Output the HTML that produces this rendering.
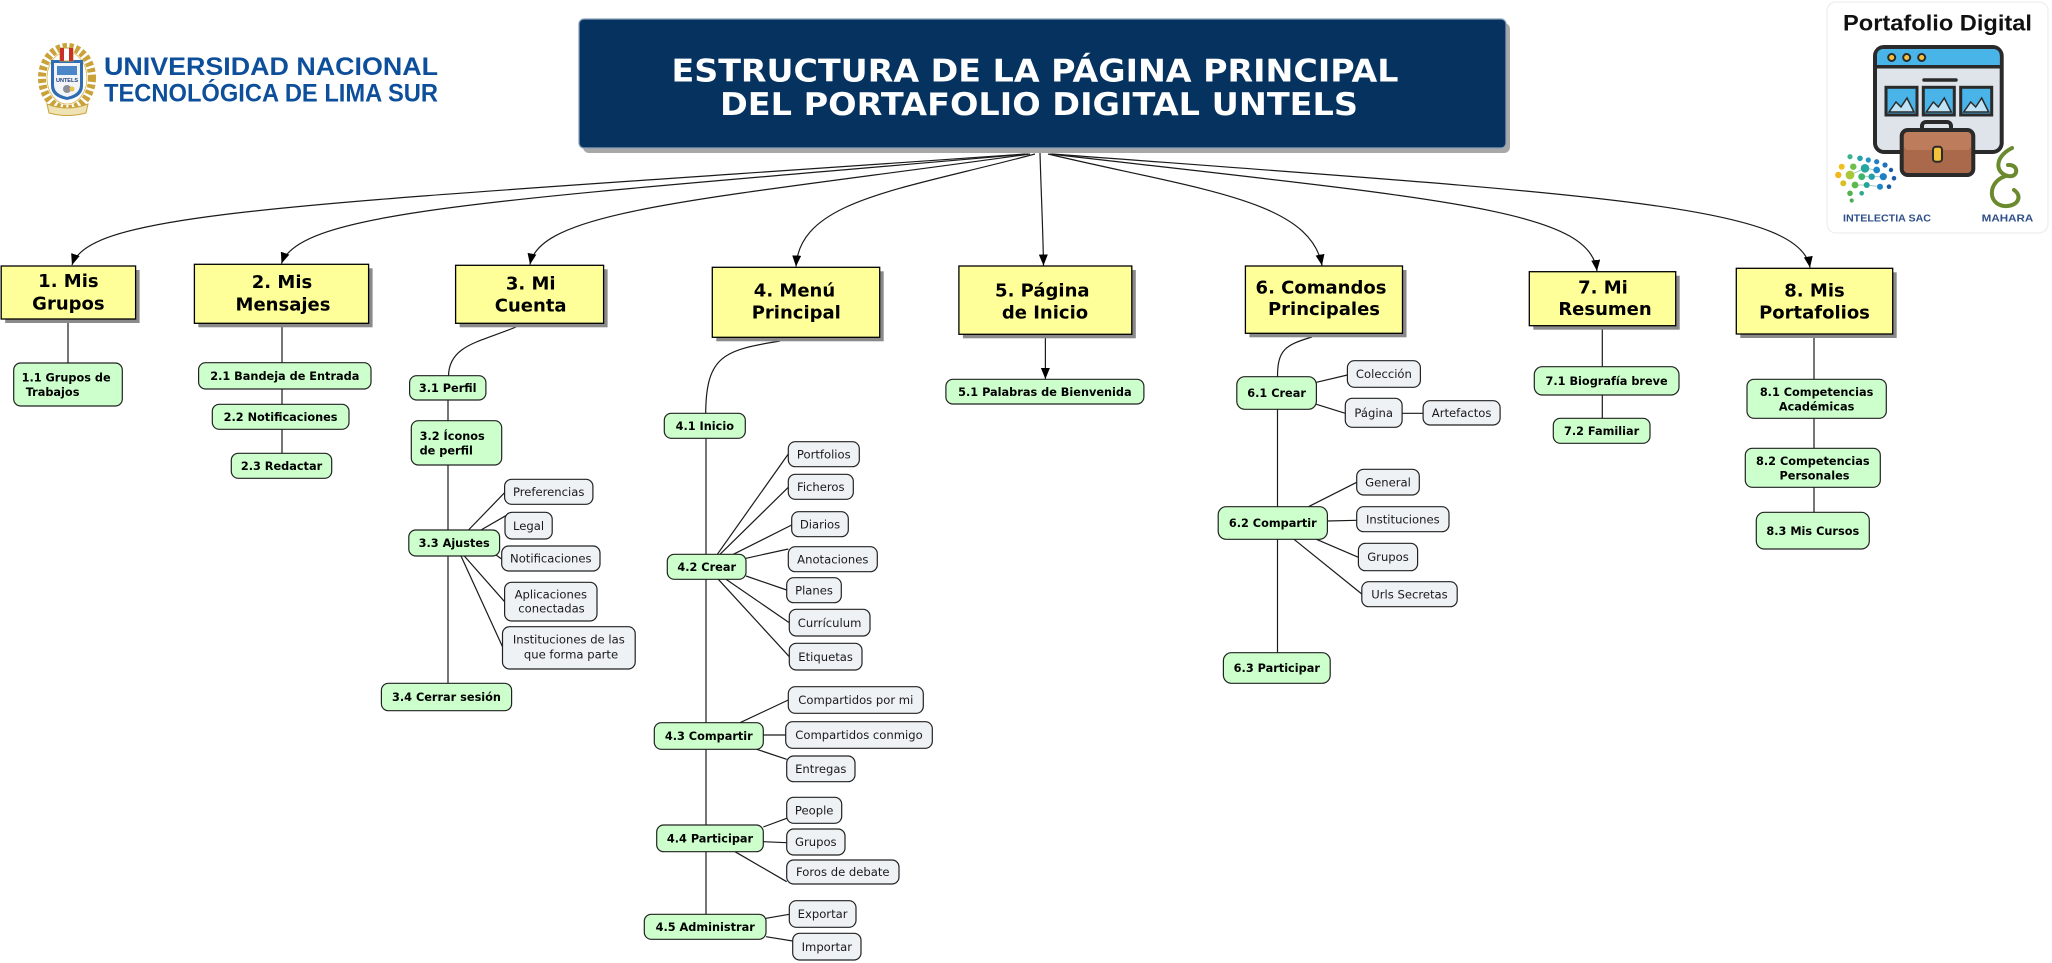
<!DOCTYPE html>
<html>
<head>
<meta charset="utf-8">
<style>
html,body{margin:0;padding:0;background:#fff;}
svg{display:block;}
.ybox{fill:#ffff99;stroke:#000;stroke-width:1.3;}
.ysh{fill:#8a8a8a;}
.yt{font-family:"DejaVu Sans","Liberation Sans",sans-serif;font-weight:bold;font-size:18px;fill:#000;text-anchor:middle;}
.gn{fill:#ccffcc;stroke:#222;stroke-width:1.2;}
.gt{font-family:"DejaVu Sans","Liberation Sans",sans-serif;font-weight:bold;font-size:11.3px;fill:#000;text-anchor:middle;}
.ln{fill:#eef2f5;stroke:#222;stroke-width:1.2;}
.lt{font-family:"DejaVu Sans","Liberation Sans",sans-serif;font-size:11.6px;fill:#1a1a1a;text-anchor:middle;}
.c{stroke:#1a1a1a;stroke-width:1.2;fill:none;}
</style>
</head>
<body>
<svg width="2052" height="963" viewBox="0 0 2052 963" xmlns="http://www.w3.org/2000/svg">
<defs>
<marker id="ar" markerUnits="userSpaceOnUse" markerWidth="12" markerHeight="10" refX="11" refY="4.5" orient="auto">
<path d="M0,0 L11,4.5 L0,9 z" fill="#000"/>
</marker>
</defs>

<!-- ===== Top-left logo ===== -->
<g>
<ellipse cx="67" cy="78" rx="25" ry="31" fill="none" stroke="#c9a23a" stroke-width="8" stroke-dasharray="4 2.4"/>
<ellipse cx="67" cy="78" rx="20" ry="26" fill="#fff" stroke="#d8b44c" stroke-width="0.8"/>
<path d="M51,60 H83 V86 Q83,97 67,100 Q51,97 51,86 Z" fill="#2f6db3"/>
<path d="M54,63 H80 V85 Q80,94 67,97 Q54,94 54,85 Z" fill="#f2f4f8"/>
<rect x="57" y="66" width="20" height="9" fill="#4a86c8"/>
<text x="67" y="82" font-family="Liberation Sans,sans-serif" font-size="5.5" font-weight="bold" fill="#1c3f7a" text-anchor="middle">UNTELS</text>
<circle cx="67" cy="89" r="4" fill="#8a8f98"/>
<circle cx="72" cy="89" r="2.5" fill="#e6c24a"/>
<rect x="60" y="48" width="13" height="13" fill="#fff" stroke="#c9a23a" stroke-width="1"/>
<rect x="60" y="48" width="4" height="13" fill="#c8302a"/>
<rect x="69" y="48" width="4" height="13" fill="#c8302a"/>
<path d="M47,104 Q67,112 88,104 L86,113 Q67,118 49,113 Z" fill="#efe3b4" stroke="#c9a23a" stroke-width="1"/>
</g>
<text x="104" y="75" textLength="334" lengthAdjust="spacingAndGlyphs" font-family="Liberation Sans,sans-serif" font-weight="bold" font-size="25" fill="#0d4f9b">UNIVERSIDAD NACIONAL</text>
<text x="104" y="101.7" textLength="334" lengthAdjust="spacingAndGlyphs" font-family="Liberation Sans,sans-serif" font-weight="bold" font-size="25" fill="#0d4f9b">TECNOLÓGICA DE LIMA SUR</text>

<!-- ===== Top-right logo ===== -->
<rect x="1827" y="2" width="221" height="231" rx="9" fill="#fff" stroke="#f0f0f0" stroke-width="1.5"/>
<text x="1843" y="30.7" textLength="189" lengthAdjust="spacingAndGlyphs" font-family="Liberation Sans,sans-serif" font-weight="bold" font-size="22" fill="#111">Portafolio Digital</text>
<rect x="1875" y="47" width="126.7" height="105" rx="9" fill="#dfe4ea" stroke="#2a2a2a" stroke-width="4"/>
<path d="M1877,66.7 V56 Q1877,49 1884,49 H1992.7 Q1999.7,49 1999.7,56 V66.7 Z" fill="#48b4e8"/>
<line x1="1875" y1="66.7" x2="2001.7" y2="66.7" stroke="#2a2a2a" stroke-width="3.5"/>
<circle cx="1891.7" cy="57.5" r="3.5" fill="#f6c23e" stroke="#2a2a2a" stroke-width="2"/>
<circle cx="1906.7" cy="57.5" r="3.5" fill="#f6c23e" stroke="#2a2a2a" stroke-width="2"/>
<circle cx="1921.7" cy="57.5" r="3.5" fill="#f6c23e" stroke="#2a2a2a" stroke-width="2"/>
<line x1="1924" y1="80" x2="1956" y2="80" stroke="#2a2a2a" stroke-width="3.5" stroke-linecap="round"/>
<g stroke="#2a2a2a">
<rect x="1886" y="87.3" width="31" height="27.7" fill="#4ab4e8" stroke-width="3"/>
<path d="M1889,112 L1896,102 L1901,107 L1907,98 L1914,112 Z" fill="#bfe3f5" stroke-width="1.5"/>
<rect x="1923.3" y="87.3" width="31" height="27.7" fill="#4ab4e8" stroke-width="3"/>
<path d="M1926.3,112 L1933.3,102 L1938.3,107 L1944.3,98 L1951.3,112 Z" fill="#bfe3f5" stroke-width="1.5"/>
<rect x="1960.7" y="87.3" width="31" height="27.7" fill="#4ab4e8" stroke-width="3"/>
<path d="M1963.7,112 L1970.7,102 L1975.7,107 L1981.7,98 L1988.7,112 Z" fill="#bfe3f5" stroke-width="1.5"/>
</g>
<rect x="1922" y="122" width="29" height="13" rx="4" fill="none" stroke="#2a2a2a" stroke-width="4"/>
<rect x="1901.7" y="130" width="71.6" height="45" rx="6" fill="#a9694a" stroke="#2a2a2a" stroke-width="4"/>
<rect x="1904" y="132" width="67" height="18" rx="4" fill="#bd7c5c"/>
<rect x="1933" y="146.7" width="9" height="15" rx="3" fill="#f3c23a" stroke="#2a2a2a" stroke-width="2"/>
<g stroke="#9fc9b8" stroke-width="0.9">
<line x1="1850" y1="175" x2="1865" y2="168.3"/><line x1="1865" y1="168.3" x2="1876.7" y2="170"/><line x1="1861.7" y1="176.7" x2="1871.7" y2="176.7"/><line x1="1871.7" y1="176.7" x2="1883.3" y2="176.7"/><line x1="1855" y1="185" x2="1866.7" y2="185"/><line x1="1866.7" y1="185" x2="1880" y2="186.7"/>
</g>
<g>
<circle cx="1850" cy="156.7" r="2.6" fill="#3cb38a"/>
<circle cx="1860" cy="158.3" r="2.8" fill="#26a3a8"/>
<circle cx="1868.3" cy="160" r="2.6" fill="#2393c4"/>
<circle cx="1876.7" cy="161.7" r="2.6" fill="#1f7fc4"/>
<circle cx="1885" cy="165" r="2.6" fill="#1f72bc"/>
<circle cx="1891" cy="170" r="2.2" fill="#1a5aa0"/>
<circle cx="1841.7" cy="166.7" r="3" fill="#f0c020"/>
<circle cx="1853.3" cy="166.7" r="3.2" fill="#6cbf4a"/>
<circle cx="1865" cy="168.3" r="4.3" fill="#25a7a0"/>
<circle cx="1876.7" cy="170" r="3.4" fill="#1f86c8"/>
<circle cx="1838.3" cy="175" r="3.2" fill="#f2b81e"/>
<circle cx="1850" cy="175" r="4.4" fill="#a8c83a"/>
<circle cx="1861.7" cy="176.7" r="3.4" fill="#3db56a"/>
<circle cx="1871.7" cy="176.7" r="3.2" fill="#22a0a8"/>
<circle cx="1883.3" cy="176.7" r="3.6" fill="#1e7fc4"/>
<circle cx="1894" cy="178.3" r="2.3" fill="#1a5aa0"/>
<circle cx="1843.3" cy="183.3" r="3" fill="#d9c020"/>
<circle cx="1855" cy="185" r="3.4" fill="#5cba4c"/>
<circle cx="1866.7" cy="185" r="3" fill="#22a59a"/>
<circle cx="1880" cy="186.7" r="3" fill="#1f86c8"/>
<circle cx="1889" cy="186.7" r="2.3" fill="#1a5aa0"/>
<circle cx="1850" cy="193.3" r="2.8" fill="#52b24e"/>
<circle cx="1861.7" cy="193.3" r="2.3" fill="#2aa88c"/>
<circle cx="1851.7" cy="200.5" r="2.1" fill="#4aae50"/>
</g>
<g fill="none" stroke="#6b8a2e" stroke-width="4" stroke-linecap="round">
<path d="M2012,148 C1994,157 1995,173 2008,176 C2019,178 2019,164 2008,165"/>
<path d="M2006,176 C1988,181 1987,204 2004,206 C2018,207 2023,196 2014,190"/>
</g>
<text x="1843" y="221.7" textLength="88" lengthAdjust="spacingAndGlyphs" font-family="Liberation Sans,sans-serif" font-weight="bold" font-size="10.5" fill="#2f4f8a">INTELECTIA SAC</text>
<text x="1981.7" y="221.7" textLength="51.6" lengthAdjust="spacingAndGlyphs" font-family="Liberation Sans,sans-serif" font-weight="bold" font-size="10.5" fill="#2f4f8a">MAHARA</text>

<!-- ===== Title ===== -->
<rect x="583" y="23" width="927" height="130" rx="6" fill="#a8a8a8"/>
<rect x="579" y="19" width="927" height="129" rx="5" fill="#06325f" stroke="#8aa0b8" stroke-width="1.2"/>
<text x="1035" y="81.7" textLength="727" lengthAdjust="spacingAndGlyphs" font-family="DejaVu Sans,Liberation Sans,sans-serif" font-weight="bold" font-size="31" fill="#fff" text-anchor="middle">ESTRUCTURA DE LA PÁGINA PRINCIPAL</text>
<text x="1039" y="115" textLength="638" lengthAdjust="spacingAndGlyphs" font-family="DejaVu Sans,Liberation Sans,sans-serif" font-weight="bold" font-size="31" fill="#fff" text-anchor="middle">DEL PORTAFOLIO DIGITAL UNTELS</text>

<!-- ===== Main arrows ===== -->
<g class="c" marker-end="url(#ar)">
<path d="M1025,154 C300,205 90,210 72,265"/>
<path d="M1028,154 C500,200 300,210 281.5,263.5"/>
<path d="M1030,154 C700,200 540,210 530,264.5"/>
<path d="M1035,154 C900,190 800,200 796,266.5"/>
<path d="M1040,153 C1041,190 1043,230 1043.5,265.5"/>
<path d="M1048,154 C1200,190 1310,200 1322,265.5"/>
<path d="M1050,154 C1450,200 1590,210 1597,271"/>
<path d="M1052,154 C1600,195 1800,205 1810,267.5"/>
</g>

<!-- ===== Tree connectors ===== -->
<g class="c">
<line x1="68" y1="319" x2="68" y2="363"/>
<line x1="282" y1="323" x2="282" y2="478"/>
<path d="M516,327 C480,342 449,345 448.5,376"/>
<line x1="448" y1="400" x2="448" y2="684"/>
<line x1="468.5" y1="530" x2="504.6" y2="492.7"/>
<line x1="481" y1="530" x2="505.8" y2="515.7"/>
<line x1="496" y1="555" x2="503" y2="560"/>
<line x1="464.3" y1="556" x2="504.6" y2="601.7"/>
<line x1="461" y1="556" x2="502.5" y2="646.7"/>

<path d="M780,341 C725,350 706,355 705.7,413.5"/>
<line x1="706" y1="438" x2="706" y2="914.5"/>
<line x1="717.3" y1="554.3" x2="788.3" y2="454"/>
<line x1="720" y1="554.3" x2="788.3" y2="487.3"/>
<line x1="733.3" y1="554.3" x2="791.7" y2="525"/>
<line x1="746" y1="558.3" x2="788.3" y2="549"/>
<line x1="746" y1="576" x2="786.7" y2="590"/>
<line x1="726" y1="579.3" x2="789.3" y2="622.7"/>
<line x1="718.3" y1="579.3" x2="789.3" y2="656.7"/>
<line x1="740" y1="722.7" x2="788.3" y2="700"/>
<line x1="763.3" y1="735" x2="785.7" y2="735"/>
<line x1="756.7" y1="749.3" x2="786.7" y2="759.3"/>
<line x1="763.3" y1="827" x2="786.7" y2="818.3"/>
<line x1="763.3" y1="841.7" x2="786.7" y2="842.7"/>
<line x1="735" y1="851.7" x2="786.7" y2="881.7"/>
<line x1="766" y1="918.3" x2="789.3" y2="914.3"/>
<line x1="766" y1="936.7" x2="792.7" y2="941"/>

<path d="M1312,337 C1285,345 1277.5,350 1277.5,377"/>
<line x1="1277.5" y1="409" x2="1277.5" y2="653"/>
<line x1="1316.4" y1="382.3" x2="1347.4" y2="375"/>
<line x1="1316.4" y1="404.3" x2="1345.3" y2="413.3"/>
<line x1="1402.1" y1="413.3" x2="1423.1" y2="413.3"/>
<line x1="1308.5" y1="506.7" x2="1356.7" y2="482.3"/>
<line x1="1327.4" y1="521" x2="1356.7" y2="520.3"/>
<line x1="1316.4" y1="539.3" x2="1358.4" y2="557.3"/>
<line x1="1294" y1="539.3" x2="1361.8" y2="594"/>

<line x1="1602.3" y1="326" x2="1602.3" y2="418.5"/>
<line x1="1814" y1="334" x2="1814" y2="512.5"/>
</g>
<line x1="1045.4" y1="338" x2="1045.4" y2="379" class="c" marker-end="url(#ar)"/>

<!-- ===== Yellow main boxes ===== -->
<rect class="ysh" x="5.2" y="270" width="134.4" height="53"/>
<rect class="ybox" x="1.2" y="266" width="134.4" height="53"/>
<text class="yt" x="68.4" y="287">1. Mis</text>
<text class="yt" x="68.4" y="309.5">Grupos</text>

<rect class="ysh" x="198.4" y="268.3" width="174.2" height="59"/>
<rect class="ybox" x="194.4" y="264.3" width="174.2" height="59"/>
<text class="yt" x="282" y="288">2. Mis</text>
<text class="yt" x="283" y="310.5">Mensajes</text>

<rect class="ysh" x="459.6" y="269.3" width="148" height="58"/>
<rect class="ybox" x="455.6" y="265.3" width="148" height="58"/>
<text class="yt" x="530.7" y="289.3">3. Mi</text>
<text class="yt" x="530.7" y="311.7">Cuenta</text>

<rect class="ysh" x="716.3" y="271.3" width="167.4" height="70"/>
<rect class="ybox" x="712.3" y="267.3" width="167.4" height="70"/>
<text class="yt" x="794.5" y="296.7">4. Menú</text>
<text class="yt" x="796.3" y="318.3">Principal</text>

<rect class="ysh" x="962.9" y="270" width="172.9" height="68.3"/>
<rect class="ybox" x="958.9" y="266" width="172.9" height="68.3"/>
<text class="yt" x="1042.3" y="296.7">5. Página</text>
<text class="yt" x="1045" y="318.3">de Inicio</text>

<rect class="ysh" x="1249.4" y="270" width="157.1" height="67.3"/>
<rect class="ybox" x="1245.4" y="266" width="157.1" height="67.3"/>
<text class="yt" x="1321" y="293.3">6. Comandos</text>
<text class="yt" x="1324" y="315">Principales</text>

<rect class="ysh" x="1533.3" y="275.7" width="146.4" height="54"/>
<rect class="ybox" x="1529.3" y="271.7" width="146.4" height="54"/>
<text class="yt" x="1603" y="293.3">7. Mi</text>
<text class="yt" x="1605" y="315">Resumen</text>

<rect class="ysh" x="1740.3" y="272.3" width="156.4" height="65.7"/>
<rect class="ybox" x="1736.3" y="268.3" width="156.4" height="65.7"/>
<text class="yt" x="1814.5" y="296.7">8. Mis</text>
<text class="yt" x="1814.5" y="318.3">Portafolios</text>

<!-- ===== Green nodes ===== -->
<rect class="gn" x="13.7" y="363" width="108.6" height="43" rx="7"/>
<text class="gt" x="21.6" y="381.7" style="text-anchor:start">1.1 Grupos de</text>
<text class="gt" x="25.7" y="396" style="text-anchor:start">Trabajos</text>

<rect class="gn" x="198.6" y="362.7" width="172.4" height="26.3" rx="7"/>
<text class="gt" x="284.8" y="380">2.1 Bandeja de Entrada</text>
<rect class="gn" x="212.3" y="404.3" width="136.7" height="25" rx="7"/>
<text class="gt" x="280.6" y="421">2.2 Notificaciones</text>
<rect class="gn" x="231.3" y="453.3" width="100.4" height="25" rx="7"/>
<text class="gt" x="281.5" y="470">2.3 Redactar</text>

<rect class="gn" x="409.6" y="375.7" width="76.3" height="24.3" rx="7"/>
<text class="gt" x="447.7" y="392">3.1 Perfil</text>
<rect class="gn" x="411.3" y="420.7" width="90.4" height="44.3" rx="7"/>
<text class="gt" x="419.6" y="440" style="text-anchor:start">3.2 Íconos</text>
<text class="gt" x="419.6" y="454.5" style="text-anchor:start">de perfil</text>
<rect class="gn" x="408.8" y="530" width="90.8" height="26" rx="7"/>
<text class="gt" x="454.2" y="547">3.3 Ajustes</text>
<rect class="gn" x="381.4" y="683.3" width="130.2" height="27.4" rx="7"/>
<text class="gt" x="446.5" y="701">3.4 Cerrar sesión</text>

<rect class="gn" x="664.3" y="413.3" width="81" height="25" rx="7"/>
<text class="gt" x="704.8" y="430">4.1 Inicio</text>
<rect class="gn" x="667.3" y="554.3" width="78.7" height="25" rx="7"/>
<text class="gt" x="706.7" y="571">4.2 Crear</text>
<rect class="gn" x="654.3" y="722.7" width="109" height="26.6" rx="7"/>
<text class="gt" x="708.8" y="740">4.3 Compartir</text>
<rect class="gn" x="656.7" y="825" width="106.6" height="26.7" rx="7"/>
<text class="gt" x="710" y="842.5">4.4 Participar</text>
<rect class="gn" x="644.3" y="914.3" width="121.7" height="25" rx="7"/>
<text class="gt" x="705.2" y="931">4.5 Administrar</text>

<rect class="gn" x="945.9" y="379.3" width="198" height="24.7" rx="7"/>
<text class="gt" x="1044.9" y="395.8">5.1 Palabras de Bienvenida</text>

<rect class="gn" x="1236.8" y="376.7" width="79.6" height="32.6" rx="8"/>
<text class="gt" x="1276.6" y="397">6.1 Crear</text>
<rect class="gn" x="1218.2" y="506.7" width="109.2" height="32.6" rx="8"/>
<text class="gt" x="1272.8" y="527">6.2 Compartir</text>
<rect class="gn" x="1223.4" y="652.7" width="106.8" height="30.6" rx="8"/>
<text class="gt" x="1276.8" y="672">6.3 Participar</text>

<rect class="gn" x="1534.3" y="366.7" width="144.7" height="28.3" rx="8"/>
<text class="gt" x="1606.6" y="385">7.1 Biografía breve</text>
<rect class="gn" x="1553.3" y="418.3" width="96.7" height="25" rx="7"/>
<text class="gt" x="1601.6" y="435">7.2 Familiar</text>

<rect class="gn" x="1747" y="379.3" width="139.3" height="39" rx="7"/>
<text class="gt" x="1816.6" y="396">8.1 Competencias</text>
<text class="gt" x="1816.6" y="410.7">Académicas</text>
<rect class="gn" x="1745.3" y="448.3" width="135" height="39" rx="7"/>
<text class="gt" x="1812.8" y="465">8.2 Competencias</text>
<text class="gt" x="1814.5" y="479.3">Personales</text>
<rect class="gn" x="1756.3" y="512.3" width="113" height="36.7" rx="8"/>
<text class="gt" x="1812.8" y="534.8">8.3 Mis Cursos</text>

<!-- ===== Leaf nodes ===== -->
<rect class="ln" x="504.6" y="479.3" width="88.3" height="25" rx="7"/>
<text class="lt" x="548.7" y="496">Preferencias</text>
<rect class="ln" x="505" y="512.3" width="47.2" height="26.7" rx="7"/>
<text class="lt" x="528.6" y="529.9">Legal</text>
<rect class="ln" x="501.7" y="546" width="98.3" height="25" rx="7"/>
<text class="lt" x="550.8" y="562.7">Notificaciones</text>
<rect class="ln" x="504.6" y="582.3" width="92.4" height="38.7" rx="7"/>
<text class="lt" x="550.8" y="598.3">Aplicaciones</text>
<text class="lt" x="551.5" y="612.7">conectadas</text>
<rect class="ln" x="502.5" y="626.7" width="132.7" height="42.3" rx="7"/>
<text class="lt" x="568.8" y="643.3">Instituciones de las</text>
<text class="lt" x="571" y="658.3">que forma parte</text>

<rect class="ln" x="788.3" y="441.7" width="71" height="25" rx="7"/>
<text class="lt" x="823.8" y="458.4">Portfolios</text>
<rect class="ln" x="788.3" y="474.3" width="65" height="25" rx="7"/>
<text class="lt" x="820.8" y="491">Ficheros</text>
<rect class="ln" x="791.7" y="511.7" width="56.6" height="25" rx="7"/>
<text class="lt" x="820" y="528.4">Diarios</text>
<rect class="ln" x="788.3" y="546.7" width="89" height="25" rx="7"/>
<text class="lt" x="832.8" y="563.4">Anotaciones</text>
<rect class="ln" x="786.7" y="577.7" width="54.6" height="25" rx="7"/>
<text class="lt" x="814" y="594.4">Planes</text>
<rect class="ln" x="789.3" y="609.3" width="80.7" height="26.7" rx="7"/>
<text class="lt" x="829.6" y="626.9">Currículum</text>
<rect class="ln" x="789.3" y="643.3" width="72.7" height="26.7" rx="7"/>
<text class="lt" x="825.6" y="660.9">Etiquetas</text>

<rect class="ln" x="788.3" y="686.7" width="135" height="26.6" rx="7"/>
<text class="lt" x="855.8" y="704.2">Compartidos por mi</text>
<rect class="ln" x="785.7" y="721.7" width="146.6" height="26.6" rx="7"/>
<text class="lt" x="859" y="739.2">Compartidos conmigo</text>
<rect class="ln" x="786.7" y="756" width="68.3" height="25.7" rx="7"/>
<text class="lt" x="820.8" y="773">Entregas</text>
<rect class="ln" x="786.7" y="797.3" width="55" height="26" rx="7"/>
<text class="lt" x="814.2" y="814.5">People</text>
<rect class="ln" x="786.7" y="829" width="58.3" height="26" rx="7"/>
<text class="lt" x="815.8" y="846.2">Grupos</text>
<rect class="ln" x="786.7" y="860" width="112.3" height="24" rx="7"/>
<text class="lt" x="842.8" y="876.2">Foros de debate</text>
<rect class="ln" x="789.3" y="900.7" width="66.7" height="26.6" rx="7"/>
<text class="lt" x="822.6" y="918.2">Exportar</text>
<rect class="ln" x="792.7" y="933.3" width="68.3" height="26.7" rx="7"/>
<text class="lt" x="826.8" y="950.9">Importar</text>

<rect class="ln" x="1347.4" y="360.7" width="73" height="26.6" rx="7"/>
<text class="lt" x="1383.9" y="378.2">Colección</text>
<rect class="ln" x="1345.3" y="398.3" width="56.8" height="29" rx="7"/>
<text class="lt" x="1373.7" y="417">Página</text>
<rect class="ln" x="1423.1" y="400.7" width="77" height="24.3" rx="7"/>
<text class="lt" x="1461.6" y="417">Artefactos</text>
<rect class="ln" x="1356.7" y="469.3" width="62.6" height="25.7" rx="7"/>
<text class="lt" x="1388" y="486.4">General</text>
<rect class="ln" x="1356.7" y="506.7" width="92.3" height="25" rx="7"/>
<text class="lt" x="1402.8" y="523.4">Instituciones</text>
<rect class="ln" x="1358.4" y="543.3" width="59.2" height="27.4" rx="7"/>
<text class="lt" x="1388" y="561.2">Grupos</text>
<rect class="ln" x="1361.8" y="581.7" width="95.4" height="25" rx="7"/>
<text class="lt" x="1409.5" y="598.4">Urls Secretas</text>
</svg>
</body>
</html>
